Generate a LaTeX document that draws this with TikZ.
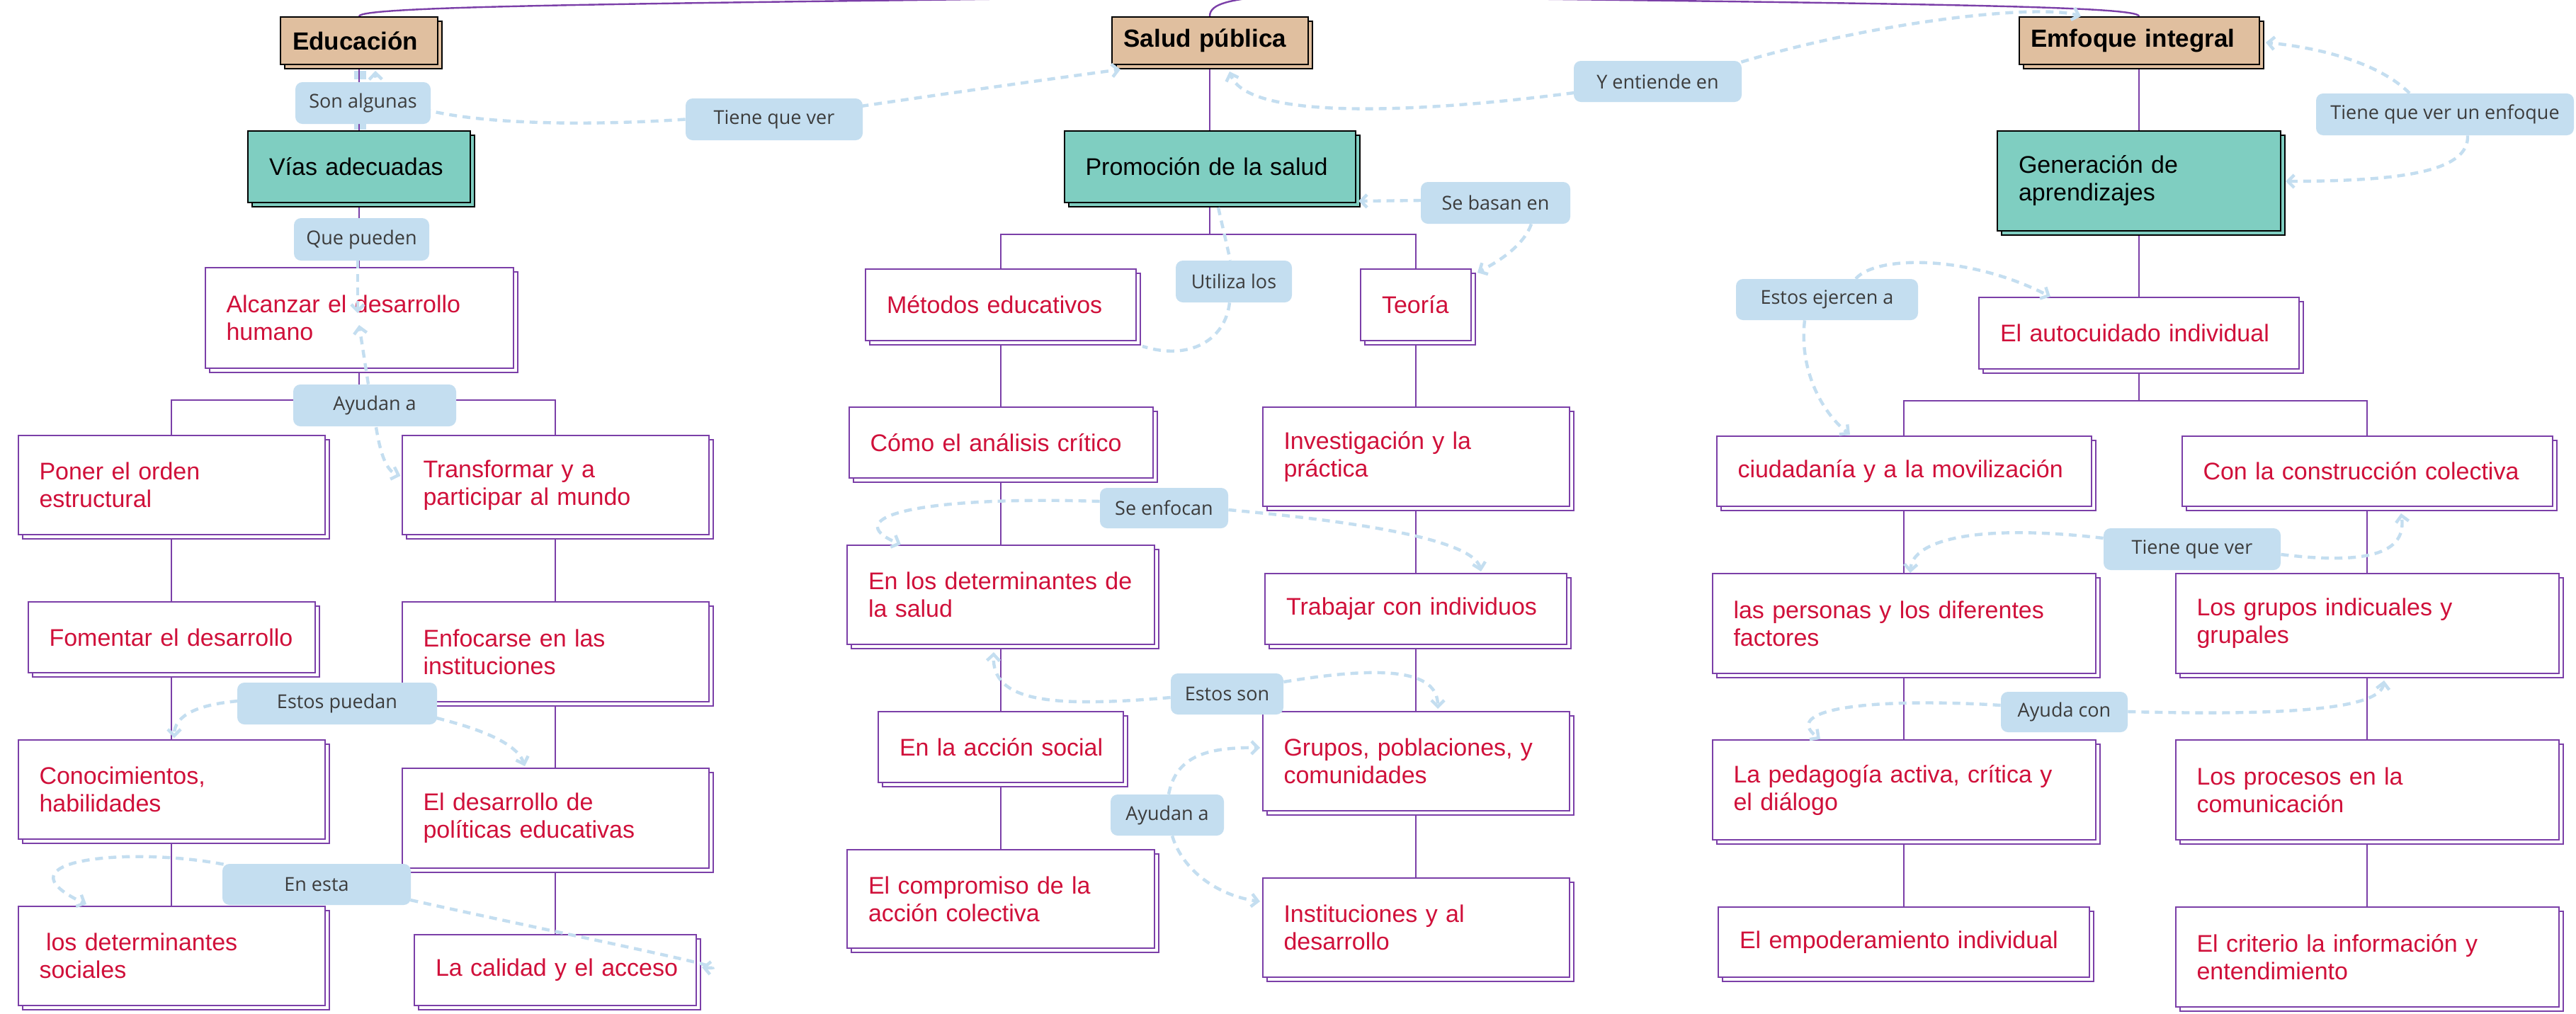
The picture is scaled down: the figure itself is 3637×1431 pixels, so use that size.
\documentclass[tikz,border=0pt]{standalone}
\usepackage{fontspec}
\setmainfont{Liberation Sans}
\newfontfamily\mmLblFam{Open Sans}
\usetikzlibrary{arrows.meta,shadows,calc}
\definecolor{hdrtan}{HTML}{E0BF9F}
\definecolor{tealc}{HTML}{7FCEC1}
\definecolor{purp}{HTML}{7B3FA8}
\definecolor{redt}{HTML}{D0103A}
\definecolor{lblue}{HTML}{C4DEF0}
\definecolor{lbltxt}{HTML}{3C3C3C}
\pgfdeclarelayer{bg}
\pgfdeclarelayer{fg}
\pgfsetlayers{bg,main,fg}
\newcommand\mmBox{\fontsize{17}{19.5}\selectfont}
\newcommand\mmHdr{\fontsize{17.5}{20}\selectfont\bfseries}
\newcommand\mmLbl{\mmLblFam\fontsize{13.5}{16}\selectfont}
\newcommand\mmL[1]{\mbox{#1}}
\tikzset{
  hdr/.style={draw=black, line width=1pt, fill=hdrtan, font=\mmHdr, text=black, align=left,
    inner xsep=8.5pt, inner ysep=0pt, minimum height=33.5pt,
    copy shadow={draw=black, fill=hdrtan, line width=1pt, shadow xshift=3pt, shadow yshift=-3pt}},
  mid/.style={draw=black, line width=1pt, fill=tealc, font=\mmBox, text=black, align=left,
    inner xsep=15pt, inner ysep=0pt,
    copy shadow={draw=black, fill=tealc, line width=1pt, shadow xshift=3pt, shadow yshift=-3pt}},
  cbox/.style={draw=purp, line width=1pt, fill=white, font=\mmBox, text=redt, align=left,
    inner xsep=15pt, inner ysep=0pt,
    copy shadow={draw=purp, fill=white, line width=1pt, shadow xshift=3pt, shadow yshift=-3pt}},
  lbl/.style={fill=lblue, rounded corners=5pt, font=\mmLbl, text=lbltxt, inner sep=0pt, align=center},
  tree/.style={draw=purp, line width=1pt},
  topc/.style={draw=purp, line width=1.2pt},
  dl/.style={draw=lblue, line width=2.2pt, dash pattern=on 5.5pt off 4pt},
  arr/.style={-{Straight Barb[length=4.5pt,width=9pt]}}
}
\begin{document}
\begin{tikzpicture}[x=0.5pt,y=-0.5pt]
\useasboundingbox (0,0) rectangle (3637,1431);

% ---------- labels (front layer) ----------
\begin{pgfonlayer}{fg}
\node[lbl, minimum width=95.5pt, minimum height=29.5pt] (lSon) at (512.5,145.5) {Son algunas};
\node[lbl, minimum width=95.5pt, minimum height=30pt] (lQue) at (510.5,338) {Que pueden};
\node[lbl, minimum width=125pt, minimum height=29.5pt] (lTie1) at (1093,168.5) {Tiene que ver};
\node[lbl, minimum width=115pt, minimum height=29.5pt] (lAyu1) at (529,572.5) {Ayudan a};
\node[lbl, minimum width=141pt, minimum height=29.5pt] (lEsP) at (476,993.5) {Estos puedan};
\node[lbl, minimum width=133pt, minimum height=29pt] (lEnE) at (447,1249) {En esta};
\node[lbl, minimum width=118.5pt, minimum height=29pt] (lYen) at (2340.5,115) {Y entiende en};
\node[lbl, minimum width=105.5pt, minimum height=29.5pt] (lSeB) at (2111.5,286.5) {Se basan en};
\node[lbl, minimum width=82pt, minimum height=29.5pt] (lUti) at (1742,397.5) {Utiliza los};
\node[lbl, minimum width=90.5pt, minimum height=28.5pt] (lSeE) at (1643.5,717.5) {Se enfocan};
\node[lbl, minimum width=79.5pt, minimum height=29pt] (lEsS) at (1732.5,980) {Estos son};
\node[lbl, minimum width=80pt, minimum height=29pt] (lAyu2) at (1648,1151) {Ayudan a};
\node[lbl, minimum width=182pt, minimum height=29.5pt] (lTuE) at (3452,161.5) {Tiene que ver un enfoque};
\node[lbl, minimum width=128.5pt, minimum height=29pt] (lEje) at (2579.5,423) {Estos ejercen a};
\node[lbl, minimum width=125pt, minimum height=29.5pt] (lTie3) at (3095,775.5) {Tiene que ver};
\node[lbl, minimum width=89.5pt, minimum height=28.5pt] (lAyC) at (2914.5,1005.5) {Ayuda con};
\end{pgfonlayer}

% ---------- headers ----------
\node[hdr, minimum width=111pt, text width=94pt] (edu) at (507,57.5) {\mmL{Educación}};
\node[hdr, minimum width=138.5pt, text width=121.5pt] (sal) at (1708,57.5) {\mmL{Salud pública}};
\node[hdr, minimum width=169.5pt, text width=152.5pt] (emf) at (3020,57.5) {\mmL{Emfoque integral}};

% ---------- second level ----------
\node[mid, minimum width=157pt, text width=127pt, minimum height=50.5pt] (vias) at (507,235.5) {\mmL{Vías adecuadas}};
\node[mid, minimum width=205.5pt, text width=175.5pt, minimum height=50.5pt] (prom) at (1708,235.5) {\mmL{Promoción de la salud}};
\node[mid, minimum width=200pt, text width=170pt, minimum height=70.5pt] (gen) at (3020,255.5) {\mmL{Generación de}\\\mmL{aprendizajes}};

% ---------- column 1 ----------
\node[cbox, minimum width=217.5pt, text width=187.5pt, minimum height=71pt] (alc) at (507,449) {\mmL{Alcanzar el desarrollo}\\\mmL{humano}};
\node[cbox, minimum width=216.5pt, text width=186.5pt, minimum height=70pt] (pon) at (242,685) {\mmL{Poner el orden}\\\mmL{estructural}};
\node[cbox, minimum width=216.5pt, text width=186.5pt, minimum height=70pt] (tra) at (784,685) {\mmL{Transformar y a}\\\mmL{participar al mundo}};
\node[cbox, minimum width=202.5pt, text width=172.5pt, minimum height=50pt] (fom) at (242,900) {\mmL{Fomentar el desarrollo}};
\node[cbox, minimum width=216.5pt, text width=186.5pt, minimum height=70.5pt] (enf) at (784,920.5) {\mmL{Enfocarse en las}\\\mmL{instituciones}};
\node[cbox, minimum width=216.5pt, text width=186.5pt, minimum height=70pt] (con) at (242,1115) {\mmL{Conocimientos,}\\\mmL{habilidades}};
\node[cbox, minimum width=216.5pt, text width=186.5pt, minimum height=70.5pt] (pol) at (784,1155.5) {\mmL{El desarrollo de}\\\mmL{políticas educativas}};
\node[cbox, minimum width=216.5pt, text width=186.5pt, minimum height=70pt] (det) at (242,1350) {\mmL{\hspace*{0.28em}los determinantes}\\\mmL{sociales}};
\node[cbox, minimum width=199pt, text width=169pt, minimum height=50pt] (cal) at (784,1370) {\mmL{La calidad y el acceso}};

% ---------- column 2 ----------
\node[cbox, minimum width=191pt, text width=161pt, minimum height=50.5pt] (met) at (1413,430.5) {\mmL{Métodos educativos}};
\node[cbox, minimum width=78pt, text width=48pt, minimum height=50.5pt] (teo) at (1999,430.5) {\mmL{Teoría}};
\node[cbox, minimum width=214.5pt, text width=184.5pt, minimum height=50pt] (com) at (1413,625) {\mmL{Cómo el análisis crítico}};
\node[cbox, minimum width=216.5pt, text width=186.5pt, minimum height=70pt] (inv) at (1999,645) {\mmL{Investigación y la}\\\mmL{práctica}};
\node[cbox, minimum width=217pt, text width=187pt, minimum height=70pt] (edet) at (1413,840) {\mmL{En los determinantes de}\\\mmL{la salud}};
\node[cbox, minimum width=213pt, text width=183pt, minimum height=50pt] (tri) at (1999,860) {\mmL{Trabajar con individuos}};
\node[cbox, minimum width=173pt, text width=143pt, minimum height=50pt] (acc) at (1413,1055) {\mmL{En la acción social}};
\node[cbox, minimum width=216.5pt, text width=186.5pt, minimum height=70pt] (gru) at (1999,1075) {\mmL{Grupos, poblaciones, y}\\\mmL{comunidades}};
\node[cbox, minimum width=217pt, text width=187pt, minimum height=69.5pt] (cmp) at (1413,1269.5) {\mmL{El compromiso de la}\\\mmL{acción colectiva}};
\node[cbox, minimum width=216.5pt, text width=186.5pt, minimum height=70pt] (ins) at (1999,1310) {\mmL{Instituciones y al}\\\mmL{desarrollo}};

% ---------- column 3 ----------
\node[cbox, minimum width=226pt, text width=196pt, minimum height=50.5pt] (aut) at (3020,470.5) {\mmL{El autocuidado individual}};
\node[cbox, minimum width=264.5pt, text width=234.5pt, minimum height=49.5pt] (ciu) at (2688,665.5) {\mmL{ciudadanía y a la movilización}};
\node[cbox, minimum width=261.5pt, text width=231.5pt, minimum height=49.5pt] (cons) at (3342,665.5) {\mmL{Con la construcción colectiva}};
\node[cbox, minimum width=270.5pt, text width=240.5pt, minimum height=70.5pt] (per) at (2688,880.5) {\mmL{las personas y los diferentes}\\\mmL{factores}};
\node[cbox, minimum width=270.5pt, text width=240.5pt, minimum height=70.5pt] (gru2) at (3342,880.5) {\mmL{Los grupos indicuales y}\\\mmL{grupales}};
\node[cbox, minimum width=270.5pt, text width=240.5pt, minimum height=70.5pt] (ped) at (2688,1115.5) {\mmL{La pedagogía activa, crítica y}\\\mmL{el diálogo}};
\node[cbox, minimum width=270.5pt, text width=240.5pt, minimum height=70.5pt] (pro) at (3342,1115.5) {\mmL{Los procesos en la}\\\mmL{comunicación}};
\node[cbox, minimum width=262pt, text width=232pt, minimum height=49.5pt] (emp) at (2688,1330.5) {\mmL{El empoderamiento individual}};
\node[cbox, minimum width=270.5pt, text width=240.5pt, minimum height=70.5pt] (cri) at (3342,1351.5) {\mmL{El criterio la información y}\\\mmL{entendimiento}};

% ---------- tree connectors (back layer) ----------
\coordinate (root) at (1790,-6);
\coordinate (b1) at (507,565);
\coordinate (b2) at (1708,331);
\coordinate (b3) at (3020,566);
\begin{pgfonlayer}{bg}
\fill[white] (0,0) rectangle (3637,1431);
\fill[lblue] (499.5,100) rectangle (516.5,112);
\fill[lblue] (499.5,175) rectangle (516.5,183);
\draw[topc] (edu.north) .. controls (507,8) and (900,5) .. (root);
\draw[topc] (sal.north) .. controls (1708,4) and (1740,0) .. (root);
\draw[topc] (emf.north) .. controls (3020,8) and (2700,5) .. (root);
\draw[tree] (edu.south) -- (vias.north);
\draw[tree] (sal.south) -- (prom.north);
\draw[tree] (emf.south) -- (gen.north);
\draw[tree] (vias.south) -- (alc.north);
\draw[tree] (gen.south) -- (aut.north);
\draw[tree] (alc.south) -- (b1);
\draw[tree] (pon.north) |- (b1) -| (tra.north);
\draw[tree] (prom.south) -- (b2);
\draw[tree] (met.north) |- (b2) -| (teo.north);
\draw[tree] (aut.south) -- (b3);
\draw[tree] (ciu.north) |- (b3) -| (cons.north);
\draw[tree] (pon.south) -- (fom.north);
\draw[tree] (fom.south) -- (con.north);
\draw[tree] (con.south) -- (det.north);
\draw[tree] (tra.south) -- (enf.north);
\draw[tree] (enf.south) -- (pol.north);
\draw[tree] (pol.south) -- (cal.north);
\draw[tree] (met.south) -- (com.north);
\draw[tree] (com.south) -- (edet.north);
\draw[tree] (edet.south) -- (acc.north);
\draw[tree] (acc.south) -- (cmp.north);
\draw[tree] (teo.south) -- (inv.north);
\draw[tree] (inv.south) -- (tri.north);
\draw[tree] (tri.south) -- (gru.north);
\draw[tree] (gru.south) -- (ins.north);
\draw[tree] (ciu.south) -- (per.north);
\draw[tree] (per.south) -- (ped.north);
\draw[tree] (ped.south) -- (emp.north);
\draw[tree] (cons.south) -- (gru2.north);
\draw[tree] (gru2.south) -- (pro.north);
\draw[tree] (pro.south) -- (cri.north);
\end{pgfonlayer}

% ---------- dashed cross links ----------
% Tiene que ver (Salud publica - Educacion)
\draw[dl,arr] ($(lTie1.east)+(-3,-18.5)$) .. controls (1350,130) and (1480,112) .. ($(sal.south west)+(13.5,6)$);
\draw[dl,arr] (lTie1.west) .. controls (800,180) and (532,178) .. ($(edu.south)+(23,8)$);
% Que pueden
\draw[dl,arr] ($(lQue.south)+(-5.5,0)$) -- ($(alc.center)+(-2,-7)$);
% Ayudan a (col 1)
\draw[dl,arr] ($(lAyu1.north)+(-9,0)$) -- ($(alc.center)+(0,10)$);
\draw[dl,arr] ($(lAyu1.south)+(2,1)$) .. controls (537,640) and (545,665) .. ($(tra.west)+(-1,-13)$);
% Estos puedan
\draw[dl,arr] ($(lEsP.west)+(1,-3.5)$) .. controls (280,995) and (246,1010) .. ($(con.north)+(4,-2)$);
\draw[dl,arr] ($(lEsP.east)+(-1,20.5)$) .. controls (680,1030) and (730,1050) .. ($(pol.north)+(-43,-2)$);
% En esta
\draw[dl,arr] ($(lEnE.north west)+(2,1)$) .. controls (180,1195) and (-10,1215) .. ($(det.north)+(-120,-2)$);
\draw[dl,arr] ($(lEnE.east)+(-1,22)$) .. controls (800,1320) and (1060,1372) .. ($(cal.east)+(7,-4)$);
% Y entiende en
\draw[dl,arr] ($(lYen.west)+(1,16)$) .. controls (2000,160) and (1760,170) .. ($(sal.south)+(28,9)$);
\draw[dl,arr] ($(lYen.north east)+(-1,2)$) .. controls (2650,30) and (2880,5) .. ($(emf.north)+(-82,0)$);
% Se basan en
\draw[dl,arr] ($(lSeB.west)+(1,-3.5)$) -- ($(prom.south east)+(3.5,-3)$);
\draw[dl,arr] ($(lSeB.south)+(50.5,0)$) .. controls (2150,350) and (2110,372) .. ($(teo.north east)+(8,6)$);
% Utiliza los
\draw[dl] ($(prom.south)+(12,6)$) -- ($(lUti.north)+(-5,0)$);
\draw[dl] ($(lUti.south)+(-6,0)$) .. controls (1730,480) and (1680,510) .. ($(met.south east)+(8,7)$);
% Se enfocan
\draw[dl,arr] ($(lSeE.west)+(0,-9.5)$) .. controls (1300,700) and (1180,730) .. ($(edet.north)+(-141,0)$);
\draw[dl,arr] ($(lSeE.east)+(0,2.5)$) .. controls (1900,735) and (2080,760) .. ($(tri.north)+(92,-2)$);
% Estos son
\draw[dl,arr] ($(lEsS.west)+(0,5)$) .. controls (1480,1000) and (1400,990) .. ($(edet.south)+(-10,10)$);
\draw[dl,arr] ($(lEsS.east)+(0,-17)$) .. controls (1950,940) and (2030,945) .. ($(gru.north)+(31,-3)$);
% Ayudan a (col 2)
\draw[dl,arr] ($(lAyu2.north)+(2,0)$) .. controls (1660,1070) and (1700,1055) .. ($(gru.west)+(-2.5,-19)$);
\draw[dl,arr] ($(lAyu2.south)+(7,0)$) .. controls (1670,1230) and (1720,1265) .. ($(ins.west)+(-2.5,-37)$);
% Tiene que ver un enfoque
\draw[dl,arr] ($(lTuE.north)+(-50,0)$) .. controls (3360,90) and (3280,68) .. ($(emf.east)+(8.5,2.5)$);
\draw[dl,arr] ($(lTuE.south)+(32,0)$) .. controls (3486,240) and (3400,256) .. ($(gen.east)+(6,0.5)$);
% Estos ejercen a
\draw[dl,arr] ($(lEje.north)+(40.5,0)$) .. controls (2650,360) and (2780,360) .. ($(aut.north)+(-125,0)$);
\draw[dl,arr] ($(lEje.south)+(-31.5,0)$) .. controls (2540,520) and (2570,580) .. ($(ciu.north)+(-76,-1)$);
% Tiene que ver (col 3)
\draw[dl,arr] ($(lTie3.west)+(0,-15.5)$) .. controls (2800,740) and (2700,760) .. ($(per.north)+(9,0)$);
\draw[dl,arr] ($(lTie3.east)+(0,7.5)$) .. controls (3320,795) and (3400,790) .. ($(cons.south)+(48,9)$);
% Ayuda con
\draw[dl,arr] ($(lAyC.west)+(0,-9.5)$) .. controls (2650,985) and (2510,1000) .. ($(ped.north)+(-118,0)$);
\draw[dl,arr] ($(lAyC.east)+(0,-0.5)$) .. controls (3200,1010) and (3360,1005) .. ($(gru2.south)+(24,9)$);
\end{tikzpicture}
\end{document}
